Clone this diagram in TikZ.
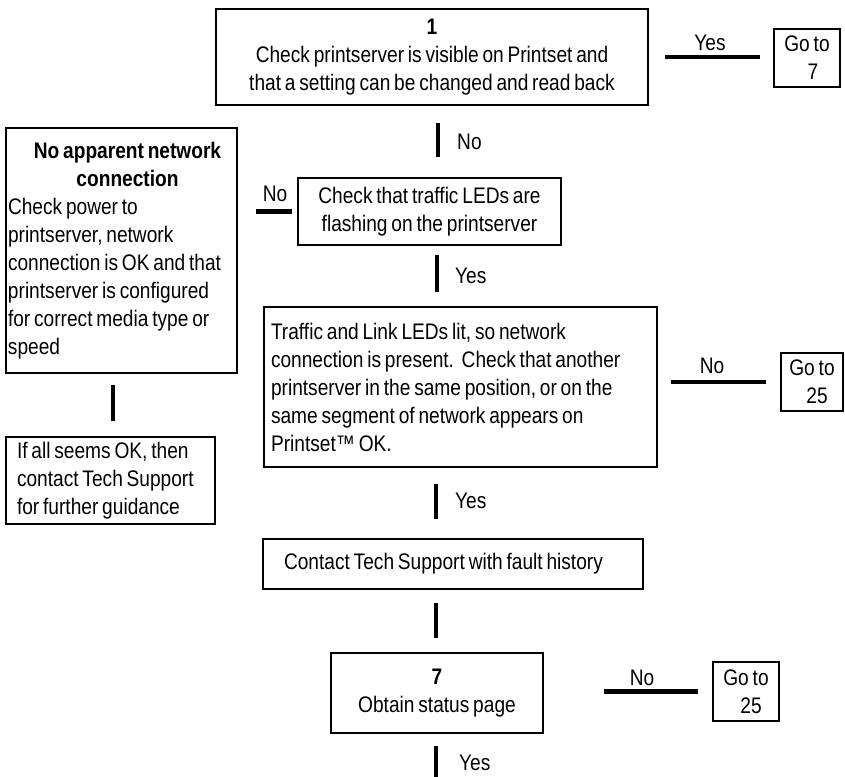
\documentclass[tikz,border=0pt]{standalone}
\usepackage{fontspec}
\setmainfont{Liberation Sans}[FakeStretch=0.85, WordSpace=0.72]
\newcommand\fz{\fontsize{22.5pt}{28pt}\selectfont}
\begin{document}
\begin{tikzpicture}[x=1pt,y=-1pt,
  box/.style={draw, line width=2pt, inner sep=0pt, font=\fz},
  bar/.style={line width=4.5pt},
  lbl/.style={inner sep=0pt, font=\fz}]
\fill[white] (0,0) rectangle (845,776);
\useasboundingbox (0,0) rectangle (845,776);

\node[box, minimum width=432pt, minimum height=96pt, align=center] (b1) at (432,57)
  {\textbf{1}\\Check printserver is visible on Printset and\\that a setting can be changed and read back};
\node[box, minimum width=66pt, minimum height=58pt, align=center] (g7) at (807,58)
  {Go to\\\hspace*{12pt}7};
\node[box, minimum width=263pt, minimum height=67pt, align=center] (led) at (429.5,211.5)
  {Check that traffic LEDs are\\flashing on the printserver};
\node[box, text width=227pt, inner xsep=2pt, minimum height=245pt, align=flush left] (lb) at (121.5,250.5)
  {\makebox[227pt][c]{\hspace*{12pt}\textbf{No apparent network}}\\
   \makebox[227pt][c]{\hspace*{12pt}\textbf{connection}}\\
   Check power to\\printserver, network\\connection is OK and that\\printserver is configured\\for correct media type or\\speed};
\node[box, text width=187pt, inner xsep=11pt, minimum height=87pt, align=flush left] (bl) at (110.5,480.5)
  {If all seems OK, then\\contact Tech Support\\for further guidance};
\node[box, text width=379pt, inner xsep=7pt, minimum height=160pt, align=flush left] (big) at (460.5,387)
  {Traffic and Link LEDs lit, so network\\connection is present.\ \ Check that another\\printserver in the same position, or on the\\same segment of network appears on\\Printset™ OK.};
\node[box, minimum width=62pt, minimum height=58pt, align=center] (g25a) at (812,382)
  {Go to\\\hspace*{10pt}25};
\node[box, text width=338pt, inner xsep=21pt, minimum height=50pt, align=flush left] (con) at (453,564)
  {Contact Tech Support with fault history};
\node[box, minimum width=212pt, minimum height=80pt, align=center] (b7) at (437,693)
  {\textbf{7}\\Obtain status page};
\node[box, minimum width=66pt, minimum height=59pt, align=center] (g25b) at (746,691.5)
  {Go to\\\hspace*{10pt}25};

% connectors
\draw[bar, shorten <=16pt, shorten >=13pt] (b1.east) -- (b1.east -| g7.west);
\node[lbl, anchor=base] (ly1) at (710,51) {Yes};

\draw[bar] ([xshift=6pt,yshift=-17pt]b1.south) -- ([xshift=8.5pt,yshift=20pt]led.north);
\node[lbl, anchor=base west] (ln1) at (457,149) {No};

\draw[bar, shorten <=5pt, shorten >=18pt] (led.west) -- (led.west -| lb.east);
\node[lbl, anchor=base] (ln2) at (275,201) {No};

\draw[bar] ([xshift=-8.5pt,yshift=-11pt]lb.south) -- ([xshift=2.5pt,yshift=15pt]bl.north);

\draw[bar] ([xshift=7.5pt,yshift=-9pt]led.south) -- ([xshift=-23.5pt,yshift=14pt]big.north);
\node[lbl, anchor=base west] (ly2) at (455,283) {Yes};

\draw[bar, shorten <=13pt, shorten >=14pt] (g25a.west -| big.east) -- (g25a.west);
\node[lbl, anchor=base] (ln3) at (712,373) {No};

\draw[bar] ([xshift=-24.5pt,yshift=-16pt]big.south) -- ([xshift=-17pt,yshift=19pt]con.north);
\node[lbl, anchor=base west] (ly3) at (455,508) {Yes};

\draw[bar] ([xshift=-17pt,yshift=-13pt]con.south) -- ([xshift=-1pt,yshift=14pt]b7.north);

\draw[bar, shorten <=60pt, shorten >=14pt] (b7.east |- g25b.west) -- (g25b.west);
\node[lbl, anchor=base] (ln4) at (642,685) {No};

\draw[bar] ([xshift=-1pt,yshift=-12pt]b7.south) -- ([xshift=-1pt,yshift=-50pt]b7.south);
\node[lbl, anchor=base west] (ly4) at (459,770) {Yes};
\end{tikzpicture}
\end{document}
